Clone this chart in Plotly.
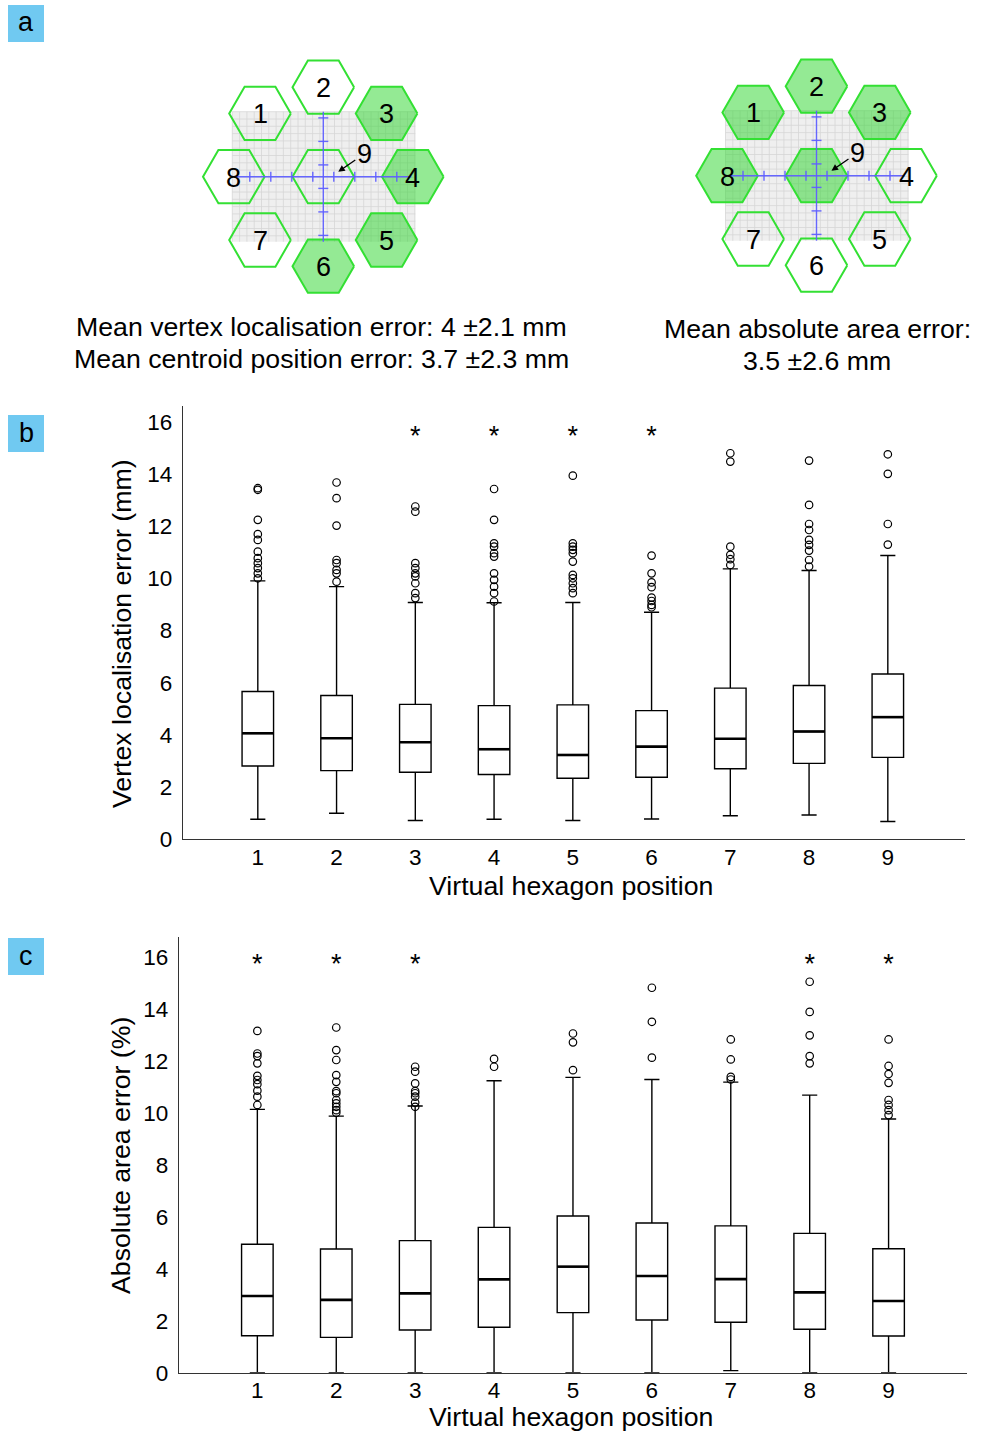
import math
import plotly.graph_objects as go

W, H = 986, 1435

# ---------------- data ----------------
positions = [1, 2, 3, 4, 5, 6, 7, 8, 9]
y_ticks = [0, 2, 4, 6, 8, 10, 12, 14, 16]

# panel b : vertex localisation error (mm)
b_q1 = [2.81, 2.63, 2.57, 2.48, 2.34, 2.38, 2.70, 2.91, 3.14]
b_median = [4.06, 3.87, 3.72, 3.45, 3.23, 3.55, 3.85, 4.13, 4.68]
b_q3 = [5.66, 5.51, 5.17, 5.12, 5.15, 4.93, 5.79, 5.89, 6.33]
b_lower = [0.77, 1.00, 0.72, 0.77, 0.72, 0.78, 0.90, 0.93, 0.68]
b_upper = [9.90, 9.68, 9.07, 9.06, 9.07, 8.70, 10.36, 10.30, 10.87]
b_outliers = [
    [13.45, 13.39, 12.24, 11.69, 11.47, 11.02, 10.77, 10.58, 10.39, 10.19, 10.00],
    [13.67, 13.07, 12.02, 10.70, 10.58, 10.32, 10.19, 9.87],
    [12.75, 12.55, 10.58, 10.39, 10.19, 10.07, 9.81, 9.43, 9.24],
    [13.42, 12.24, 11.34, 11.21, 10.96, 10.83, 10.19, 9.94, 9.68, 9.43, 9.11],
    [13.93, 11.34, 11.21, 11.09, 10.96, 10.64, 10.13, 10.00, 9.81, 9.62, 9.43],
    [10.87, 10.19, 9.84, 9.66, 9.26, 9.13, 8.98, 8.89],
    [14.79, 14.47, 11.21, 10.90, 10.73, 10.51],
    [14.51, 12.81, 12.08, 11.85, 11.47, 11.28, 11.06, 10.70, 10.45],
    [14.75, 14.00, 12.08, 11.29],
]
b_significant = [3, 4, 5, 6]
b_star_level = 15.6

# panel c : absolute area error (%)
c_q1 = [1.42, 1.36, 1.64, 1.75, 2.31, 2.03, 1.94, 1.67, 1.41]
c_median = [2.95, 2.80, 3.05, 3.59, 4.08, 3.72, 3.60, 3.09, 2.76]
c_q3 = [4.94, 4.76, 5.08, 5.59, 6.03, 5.76, 5.65, 5.36, 4.77]
c_lower = [0.0, 0.0, 0.0, 0.0, 0.0, 0.0, 0.08, 0.0, 0.0]
c_upper = [10.13, 9.87, 10.26, 11.23, 11.36, 11.28, 11.18, 10.68, 9.76]
c_outliers = [
    [13.15, 12.28, 12.18, 11.90, 11.42, 11.26, 11.10, 10.85, 10.62, 10.30],
    [13.28, 12.41, 12.03, 11.45, 11.19, 10.83, 10.75, 10.49, 10.36, 10.23, 10.10, 10.00],
    [11.77, 11.58, 11.13, 10.83, 10.75, 10.62, 10.39, 10.23],
    [12.07, 11.77],
    [13.05, 12.71, 11.64],
    [14.81, 13.50, 12.12],
    [12.82, 12.05, 11.38, 11.28],
    [15.04, 13.88, 12.98, 12.18, 11.90],
    [12.82, 11.80, 11.49, 11.15, 10.49, 10.30, 10.10, 9.91],
]
c_significant = [1, 2, 3, 8, 9]
c_star_level = 15.9

# panel a : virtual hexagon layout
hex_labels = [1, 2, 3, 4, 5, 6, 7, 8, 9]
hex_angles = [135, 90, 45, 0, -45, -90, -135, 180, None]  # None = centre hexagon
left_filled = [3, 4, 5, 6]
right_filled = [1, 2, 3, 8, 9]
left_text = ["Mean vertex localisation error: 4 ±2.1 mm",
             "Mean centroid position error: 3.7 ±2.3 mm"]
right_text = ["Mean absolute area error:", "3.5 ±2.6 mm"]
panel_letters = ["a", "b", "c"]

x_title = "Virtual hexagon position"
b_ytitle = "Vertex localisation error (mm)"
c_ytitle = "Absolute area error (%)"

# ---------------- style / layout ----------------
FONT = "Liberation Sans, Arial, sans-serif"
BOX_W = 0.4
GREEN_LINE = "#33e033"
GREEN_FILL = "rgba(50,215,50,0.52)"
BLUE = "rgba(95,95,255,0.95)"
LABEL_BG = "#70c9f1"
TXT = 26.7

fig = go.Figure()


def pdx(x):
    return x / W


def pdy(y):
    return 1 - y / H


def note(x, y, text, size, ref="paper", **kw):
    if ref == "paper":
        fig.add_annotation(xref="paper", yref="paper", x=pdx(x), y=pdy(y), text=text,
                           xanchor="center", yanchor="middle",
                           font=dict(family=FONT, size=size, color="black"), **kw)
    else:
        fig.add_annotation(xref="x3", yref="y3", x=x, y=y, text=text,
                           xanchor="center", yanchor="middle",
                           font=dict(family=FONT, size=size, color="black"), **kw)


# ---------- panel a (pixel-space hidden axes x3/y3) ----------
def hexagon(cx, cy, r):
    xs, ys = [], []
    for k in range(7):
        a = math.radians(60 * k)
        xs.append(cx + r * math.cos(a))
        ys.append(cy + r * math.sin(a))
    return xs, ys


def draw_diagram(cx, cy, filled):
    ring_r = 89.5
    hex_r = 30.8
    gx0, gx1, gy0, gy1 = cx - 91, cx + 92, cy - 65, cy + 65
    fig.add_trace(go.Scatter(x=[gx0, gx1, gx1, gx0, gx0], y=[gy0, gy0, gy1, gy1, gy0],
                             fill="toself", fillcolor="#efefef", line=dict(width=0),
                             mode="lines", xaxis="x3", yaxis="y3", hoverinfo="skip"))
    step = 7.3
    lx, ly = [], []
    v = gx0
    while v <= gx1 + 0.1:
        lx += [v, v, None]
        ly += [gy0, gy1, None]
        v += step
    v = gy0
    while v <= gy1 + 0.1:
        lx += [gx0, gx1, None]
        ly += [v, v, None]
        v += step
    fig.add_trace(go.Scatter(x=lx, y=ly, mode="lines", line=dict(color="#d6d6d6", width=0.8),
                             xaxis="x3", yaxis="y3", hoverinfo="skip"))
    centres = {}
    for lab, ang in zip(hex_labels, hex_angles):
        if ang is None:
            hx, hy = cx, cy
        else:
            hx = cx + ring_r * math.cos(math.radians(ang))
            hy = cy - ring_r * math.sin(math.radians(ang))
        centres[lab] = (hx, hy)
        xs, ys = hexagon(hx, hy, hex_r)
        isf = lab in filled
        fig.add_trace(go.Scatter(x=xs, y=ys, mode="lines",
                                 fill="toself" if isf else "none",
                                 fillcolor=GREEN_FILL,
                                 line=dict(color=GREEN_LINE, width=2),
                                 xaxis="x3", yaxis="y3", hoverinfo="skip"))
    bx, by = [cx - 87, cx + 88, None, cx, cx, None], [cy, cy, None, cy - 65, cy + 65, None]
    for k in range(-4, 4):
        t = cx + 10.5 + 21 * k
        bx += [t, t, None]
        by += [cy - 5, cy + 5, None]
    for k in range(-3, 3):
        t = cy + 11.7 + 23.5 * k
        bx += [cx - 5, cx + 5, None]
        by += [t, t, None]
    fig.add_trace(go.Scatter(x=bx, y=by, mode="lines", line=dict(color=BLUE, width=1.4),
                             xaxis="x3", yaxis="y3", hoverinfo="skip"))
    for lab in hex_labels[:-1]:
        hx, hy = centres[lab]
        note(hx, hy + 1, str(lab), 27, ref="x3", showarrow=False)
    hx, hy = centres[9]
    fig.add_annotation(x=hx + 15, y=hy - 5, xref="x3", yref="y3", text="9",
                       showarrow=True, arrowhead=2, arrowsize=1, arrowwidth=1.3,
                       arrowcolor="black", ax=26, ay=-18, standoff=0,
                       font=dict(family=FONT, size=27, color="black"))


draw_diagram(323.3, 176.7, left_filled)
draw_diagram(816.5, 175.7, right_filled)

for i, t in enumerate(left_text):
    note(321, 327 + 32 * i, t, TXT, showarrow=False)
for i, t in enumerate(right_text):
    note(817, 329 + 32 * i, t, TXT, showarrow=False)

# panel letters
for lab, (y0, y1) in zip(panel_letters, [(5, 42), (415, 452), (938, 975)]):
    fig.add_shape(type="rect", xref="paper", yref="paper", x0=pdx(8), x1=pdx(44),
                  y0=pdy(y1), y1=pdy(y0), fillcolor=LABEL_BG, line=dict(width=0), layer="below")
    note(26, (y0 + y1) / 2 - 1, lab, 27, showarrow=False)


# ---------- box panels ----------
def box_panel(xa, ya, q1, med, q3, lo, up, outl, sig, star_level):
    fig.add_trace(go.Box(x=positions, q1=q1, median=med, q3=q3, lowerfence=lo, upperfence=up,
                         boxpoints=False, width=BOX_W, whiskerwidth=0.48,
                         fillcolor="white", line=dict(color="black", width=1.4),
                         xaxis=xa, yaxis=ya, hoverinfo="skip"))
    mx, my = [], []
    for p, m in zip(positions, med):
        mx += [p - BOX_W / 2, p + BOX_W / 2, None]
        my += [m, m, None]
    fig.add_trace(go.Scatter(x=mx, y=my, mode="lines", line=dict(color="black", width=2.6),
                             xaxis=xa, yaxis=ya, hoverinfo="skip"))
    ox, oy = [], []
    for p, vals in zip(positions, outl):
        ox += [p] * len(vals)
        oy += vals
    fig.add_trace(go.Scatter(x=ox, y=oy, mode="markers",
                             marker=dict(symbol="circle-open", size=7.5, color="black",
                                         line=dict(width=1.2, color="black")),
                             xaxis=xa, yaxis=ya, hoverinfo="skip"))
    fig.add_trace(go.Scatter(x=sig, y=[star_level] * len(sig), mode="text", text=["*"] * len(sig),
                             textposition="middle center",
                             textfont=dict(family=FONT, size=27, color="black"),
                             xaxis=xa, yaxis=ya, hoverinfo="skip", cliponaxis=False))


# asterisk glyph sits high in its text box; shift the anchor down so the glyph is at the level
box_panel("x", "y", b_q1, b_median, b_q3, b_lower, b_upper, b_outliers, b_significant, b_star_level - 0.25)
box_panel("x2", "y2", c_q1, c_median, c_q3, c_lower, c_upper, c_outliers, c_significant, c_star_level - 0.25)

axis_common = dict(showgrid=False, zeroline=False, showline=True, linecolor="#333333", linewidth=1.4,
                   ticks="", automargin=False, tickfont=dict(family=FONT, size=22.5, color="black"))

fig.update_layout(
    template="none",
    width=W, height=H, margin=dict(l=0, r=0, t=0, b=0, pad=0), autosize=False,
    paper_bgcolor="white", plot_bgcolor="rgba(0,0,0,0)", showlegend=False,
    xaxis=dict(domain=[pdx(183), pdx(965)], range=[0.05, 9.98], anchor="y",
               tickvals=positions, ticklabelstandoff=-3, **axis_common),
    yaxis=dict(domain=[pdy(839.3), pdy(406)], range=[0, 16.6], anchor="x",
               tickvals=y_ticks, ticklabelstandoff=5, **axis_common),
    xaxis2=dict(domain=[pdx(179), pdx(966.7)], range=[0.007, 9.99], anchor="y2",
                tickvals=positions, ticklabelstandoff=-3, **axis_common),
    yaxis2=dict(domain=[pdy(1372.7), pdy(937.3)], range=[0, 16.75], anchor="x2",
                tickvals=y_ticks, ticklabelstandoff=5, **axis_common),
    xaxis3=dict(domain=[0, 1], range=[0, W], visible=False, anchor="y3", fixedrange=True,
                automargin=False),
    yaxis3=dict(domain=[0, 1], range=[H, 0], visible=False, anchor="x3", fixedrange=True,
                automargin=False),
)

# axis titles
note(571, 886, x_title, TXT, showarrow=False)
note(571, 1417, x_title, TXT, showarrow=False)
note(122, 634, b_ytitle, TXT, showarrow=False, textangle=-90)
note(121, 1156, c_ytitle, TXT, showarrow=False, textangle=-90)

fig.write_html("out.html", config={"displayModeBar": False},
               post_script="var s=document.documentElement.style,b=document.body.style;"
                           "s.margin='0';s.overflow='hidden';b.margin='0';b.overflow='hidden';")
